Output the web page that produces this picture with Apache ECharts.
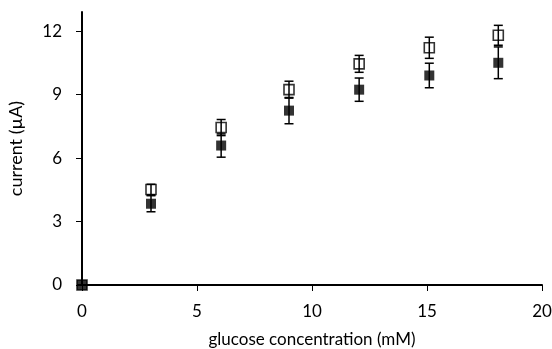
<!DOCTYPE html>
<html>
<head>
<meta charset="utf-8">
<script src="https://cdn.jsdelivr.net/npm/echarts@6/dist/echarts.min.js"></script>
<style>
  html, body { margin: 0; padding: 0; background: #fff; }
  #chart { width: 552px; height: 349px; }
</style>
</head>
<body>
<div id="chart"></div>
<script>
// Glucose concentration (mM)
const concentration = [0, 3.0, 6.05, 9.0, 12.05, 15.1, 18.1];
// Current (µA), filled markers
const currentFilled = [0, 3.84, 6.59, 8.24, 9.23, 9.9, 10.5];
const errorFilled = [0, 0.38, 0.55, 0.62, 0.55, 0.58, 0.75];
// Current (µA), open markers
const currentOpen = [0, 4.51, 7.44, 9.23, 10.45, 11.21, 11.8];
const errorOpen = [0, 0.25, 0.38, 0.4, 0.4, 0.5, 0.47];
// Tick labels
const xTicks = [0, 5, 10, 15, 20];
const yTicks = [0, 3, 6, 9, 12];

const font = 'Lato, "Open Sans", sans-serif';

function pointsOf(ys) {
  return concentration.map((x, i) => [x, ys[i]]);
}
function errorRows(ys, errs) {
  return concentration.map((x, i) => [x, ys[i] - errs[i], ys[i] + errs[i]]);
}

function renderErrorBar(params, api) {
  const x = api.value(0);
  const lo = api.coord([x, api.value(1)]);
  const hi = api.coord([x, api.value(2)]);
  const half = 4.5;
  const style = { stroke: '#000', lineWidth: 1.5, fill: null };
  return {
    type: 'group',
    children: [
      { type: 'line', shape: { x1: lo[0], y1: lo[1], x2: hi[0], y2: hi[1] }, style },
      { type: 'line', shape: { x1: lo[0] - half, y1: lo[1], x2: lo[0] + half, y2: lo[1] }, style },
      { type: 'line', shape: { x1: hi[0] - half, y1: hi[1], x2: hi[0] + half, y2: hi[1] }, style }
    ]
  };
}

const chart = echarts.init(document.getElementById('chart'), null, { renderer: 'canvas' });
chart.setOption({
  animation: false,
  backgroundColor: '#fff',
  grid: { left: 82, right: 10, top: 12, bottom: 64, containLabel: false, outerBoundsMode: 'none' },
  xAxis: {
    type: 'value',
    min: 0, max: 20, interval: 5,
    splitLine: { show: false },
    axisLine: { onZero: false, lineStyle: { color: '#000', width: 2 } },
    axisTick: { show: true, length: 6, lineStyle: { color: '#000', width: 1 } },
    axisLabel: {
      color: '#000', fontFamily: font, fontSize: 17, margin: 18,
      customValues: xTicks
    },
    name: 'glucose concentration (mM)',
    nameLocation: 'middle',
    nameGap: 46,
    nameTextStyle: { color: '#000', fontFamily: font, fontSize: 17 }
  },
  yAxis: {
    type: 'value',
    min: 0, max: 12.9, interval: 3,
    splitLine: { show: false },
    axisLine: { onZero: false, lineStyle: { color: '#000', width: 2 } },
    axisTick: { show: true, length: 6, lineStyle: { color: '#000', width: 1 }, customValues: yTicks },
    axisLabel: {
      color: '#000', fontFamily: font, fontSize: 17, margin: 20,
      customValues: yTicks
    },
    name: 'current (µA)',
    nameLocation: 'middle',
    nameGap: 57,
    nameRotate: 90,
    nameTextStyle: { color: '#000', fontFamily: font, fontSize: 18 }
  },
  series: [
    {
      type: 'custom',
      renderItem: renderErrorBar,
      data: errorRows(currentFilled, errorFilled),
      encode: { x: 0, y: [1, 2] },
      z: 2
    },
    {
      type: 'custom',
      renderItem: renderErrorBar,
      data: errorRows(currentOpen, errorOpen),
      encode: { x: 0, y: [1, 2] },
      z: 2
    },
    {
      type: 'scatter',
      data: pointsOf(currentOpen),
      symbol: 'rect',
      symbolSize: 10,
      itemStyle: { color: 'rgba(255,255,255,0)', borderColor: '#000', borderWidth: 1.6 },
      z: 3
    },
    {
      type: 'scatter',
      data: pointsOf(currentFilled),
      symbol: 'rect',
      symbolSize: 10,
      itemStyle: { color: '#000' },
      z: 4
    }
  ]
});
</script>
</body>
</html>
